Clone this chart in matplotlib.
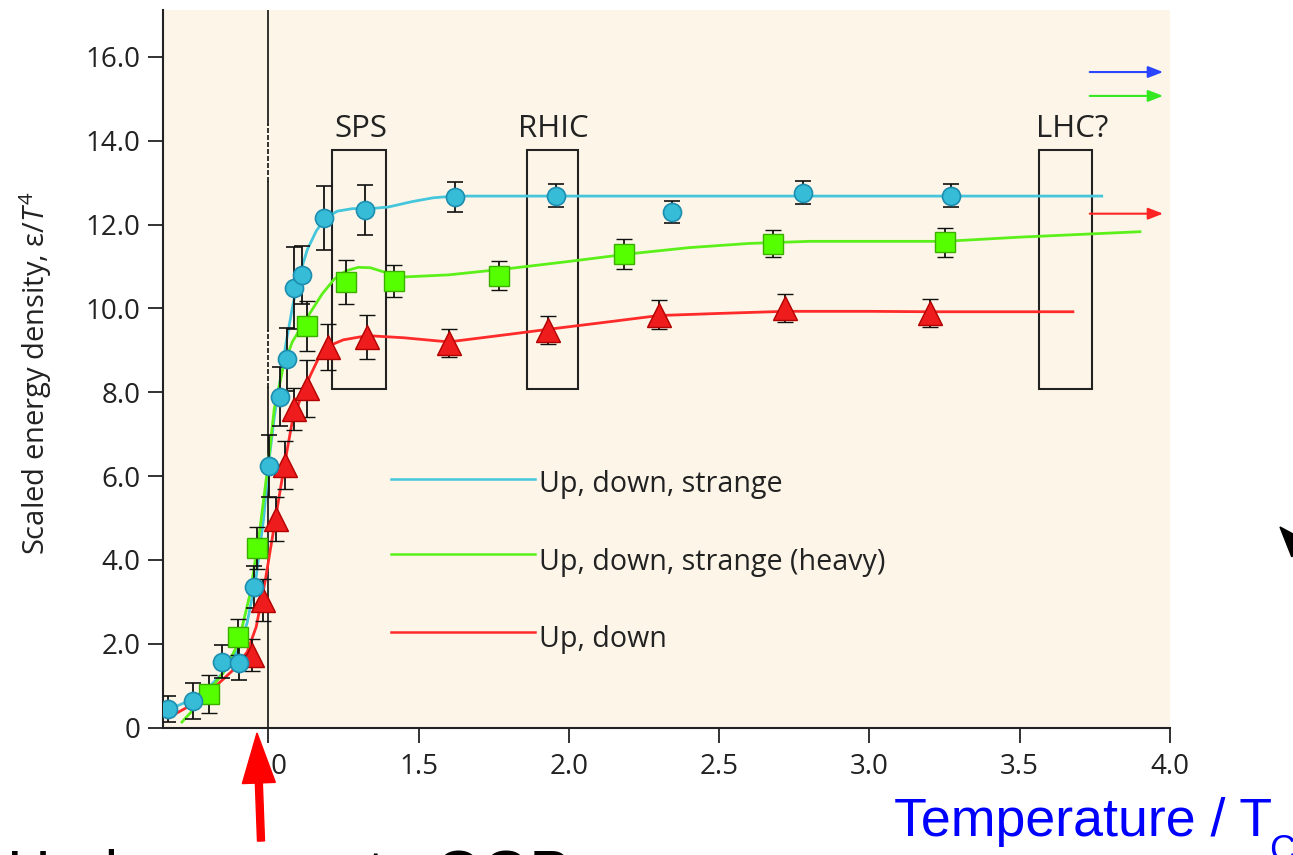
import matplotlib
matplotlib.use('Agg')
import matplotlib.pyplot as plt
from matplotlib.patches import Rectangle, FancyArrow
from matplotlib.transforms import IdentityTransform

plt.rcParams['font.family'] = ['Open Sans', 'DejaVu Sans']
plt.rcParams['mathtext.fontset'] = 'custom'
plt.rcParams['mathtext.it'] = 'Open Sans:italic'
plt.rcParams['mathtext.rm'] = 'Open Sans'

# ---------------- data ----------------
# Up, down, strange (cyan circles)
uds_x = [0.667, 0.75, 0.847, 0.903, 0.953, 1.003, 1.04, 1.063, 1.087, 1.113, 1.187, 1.323,
         1.62, 1.957, 2.343, 2.78, 3.27]
uds_y = [0.44, 0.63, 1.57, 1.54, 3.35, 6.24, 7.89, 8.79, 10.49, 10.80, 12.16, 12.35,
         12.66, 12.69, 12.30, 12.76, 12.69]
uds_err = [0.30, 0.43, 0.40, 0.40, 0.50, 0.75, 0.70, 0.75, 0.98, 0.70, 0.77, 0.60,
           0.36, 0.27, 0.27, 0.28, 0.27]
uds_curve_x = [0.667, 0.75, 0.80, 0.85, 0.90, 0.93, 0.96, 0.985, 1.0, 1.02, 1.04, 1.06, 1.08,
               1.10, 1.13, 1.16, 1.19, 1.23, 1.28, 1.34, 1.40, 1.48, 1.55, 1.62, 2.0, 2.5,
               3.0, 3.5, 3.773]
uds_curve_y = [0.42, 0.68, 0.95, 1.3, 1.85, 2.5, 3.6, 5.0, 6.2, 7.4, 8.3, 9.2, 10.0,
               10.7, 11.4, 11.85, 12.15, 12.32, 12.38, 12.38, 12.42, 12.55, 12.64, 12.68,
               12.68, 12.68, 12.68, 12.68, 12.68]

# Up, down, strange (heavy) (green squares)
udsh_x = [0.803, 0.90, 0.963, 1.13, 1.26, 1.417, 1.767, 2.183, 2.68, 3.25]
udsh_y = [0.80, 2.16, 4.28, 9.58, 10.63, 10.66, 10.78, 11.30, 11.54, 11.58]
udsh_err = [0.45, 0.43, 0.50, 0.60, 0.53, 0.38, 0.35, 0.35, 0.32, 0.35]
udsh_curve_x = [0.713, 0.76, 0.80, 0.85, 0.90, 0.94, 0.97, 1.0, 1.02, 1.05, 1.08, 1.11,
                1.14, 1.18, 1.22, 1.26, 1.30, 1.34, 1.38, 1.45, 1.6, 1.8, 2.0, 2.2, 2.4,
                2.6, 2.8, 3.0, 3.25, 3.5, 3.9]
udsh_curve_y = [0.13, 0.5, 0.85, 1.3, 2.0, 3.2, 4.6, 6.3, 7.6, 8.6, 9.2, 9.55,
                9.9, 10.35, 10.7, 10.9, 10.98, 10.97, 10.88, 10.75, 10.8, 10.95, 11.12,
                11.3, 11.45, 11.55, 11.6, 11.6, 11.6, 11.7, 11.83]

# Up, down (red triangles)
ud_x = [0.947, 0.983, 1.027, 1.057, 1.087, 1.13, 1.2, 1.327, 1.603, 1.93, 2.3, 2.72, 3.2]
ud_y = [1.73, 3.04, 4.98, 6.26, 7.60, 8.10, 9.08, 9.32, 9.18, 9.49, 9.85, 10.01, 9.89]
ud_err = [0.38, 0.50, 0.52, 0.57, 0.51, 0.68, 0.55, 0.52, 0.34, 0.33, 0.34, 0.33, 0.33]
ud_curve_x = [0.697, 0.76, 0.82, 0.88, 0.93, 0.96, 0.99, 1.02, 1.05, 1.08, 1.11, 1.14,
              1.17, 1.2, 1.25, 1.33, 1.45, 1.6, 1.8, 1.93, 2.1, 2.3, 2.5, 2.72, 3.0, 3.2,
              3.677]
ud_curve_y = [0.35, 0.6, 0.95, 1.35, 1.8, 2.4, 3.5, 4.8, 6.1, 7.3, 7.9, 8.4,
              8.85, 9.1, 9.25, 9.35, 9.3, 9.2, 9.38, 9.5, 9.65, 9.83, 9.88, 9.93, 9.93,
              9.92, 9.92]

series_labels = ['Up, down, strange', 'Up, down, strange (heavy)', 'Up, down']

# accelerator windows
box_names = ['SPS', 'RHIC', 'LHC?']
box_left = [1.213, 1.86, 3.563]
box_right = [1.393, 2.03, 3.74]
box_bottom = 8.08
box_top = 13.78
box_label_x = [1.31, 1.95, 3.673]
box_label_y = 14.1

# Stefan-Boltzmann limit arrows (right side)
sb_y = [15.64, 15.07, 12.26]
sb_x0, sb_x1 = 3.733, 3.977

xticks = [1.0, 1.5, 2.0, 2.5, 3.0, 3.5, 4.0]
xticklabels = ['1.0', '1.5', '2.0', '2.5', '3.0', '3.5', '4.0']
yticks = [0, 2, 4, 6, 8, 10, 12, 14, 16]
yticklabels = ['0', '2.0', '4.0', '6.0', '8.0', '10.0', '12.0', '14.0', '16.0']

# ---------------- style ----------------
cyan_line = '#45c6dc'
cyan_fill = '#36bcd6'
cyan_edge = '#1d8db0'
green_line = '#5cf01a'
green_fill = '#55ff00'
green_edge = '#3cae00'
red_line = '#ff2a2a'
red_fill = '#ee1c1c'
red_edge = '#b00000'
txt = '#222222'

fig = plt.figure(figsize=(12.93, 8.55), dpi=100)
ax = fig.add_axes([163 / 1293, (855 - 727.5) / 855, 1007 / 1293, 717.5 / 855])
ax.set_facecolor('#fdf6e8')
ax.set_xlim(0.65, 4.0)
ax.set_ylim(0, 17.12)

for s in ['top', 'right']:
    ax.spines[s].set_visible(False)
for s in ['left', 'bottom']:
    ax.spines[s].set_linewidth(1.5)
    ax.spines[s].set_color(txt)

ax.set_xticks(xticks)
ax.set_xticklabels(xticklabels)
ax.set_yticks(yticks)
ax.set_yticklabels(yticklabels)
ax.tick_params(direction='out', length=11, width=1.3, colors=txt, labelsize=20, pad=5)
ax.tick_params(axis='x', pad=7)

# vertical line at T = Tc
ax.plot([1.0, 1.0], [0, 8.1], color='#111111', lw=1.2, zorder=2)
ax.plot([1.0, 1.0], [8.1, 9.49], color='#111111', lw=1.2, ls=(0, (3, 1.2)), zorder=2)
ax.plot([1.0, 1.0], [9.49, 13.02], color='#111111', lw=1.2, zorder=2)
ax.plot([1.0, 1.0], [13.02, 14.4], color='#111111', lw=1.2, ls=(0, (3, 1.2)), zorder=2)
ax.plot([1.0, 1.0], [14.4, 17.12], color='#111111', lw=1.2, zorder=2)

# boxes
for name, l, r, lx in zip(box_names, box_left, box_right, box_label_x):
    ax.add_patch(Rectangle((l, box_bottom), r - l, box_top - box_bottom, fill=False,
                           ec='#222222', lw=1.5, zorder=3))
    ax.text(lx, box_label_y, name, ha='center', va='baseline', fontsize=22.5, color=txt)

# curves
ax.plot(uds_curve_x, uds_curve_y, color=cyan_line, lw=2.0, zorder=4)
ax.plot(udsh_curve_x, udsh_curve_y, color=green_line, lw=2.0, zorder=4)
ax.plot(ud_curve_x, ud_curve_y, color=red_line, lw=2.0, zorder=4)

# error bars + markers
ekw = dict(ls='none', ecolor='#111111', elinewidth=1.3, capsize=5.5, capthick=1.3, zorder=5)
ax.errorbar(ud_x, ud_y, yerr=ud_err, marker='^', ms=17, mfc=red_fill, mec=red_edge,
            mew=1.0, **ekw)
ax.errorbar(udsh_x, udsh_y, yerr=udsh_err, marker='s', ms=14, mfc=green_fill,
            mec=green_edge, mew=1.0, **ekw)
ax.errorbar(uds_x, uds_y, yerr=uds_err, marker='o', ms=13, mfc=cyan_fill, mec=cyan_edge,
            mew=1.2, **ekw)

# right side arrows
for yv, c in zip(sb_y, ['#2a45ff', '#33e81e', '#ff2424']):
    ax.annotate('', xy=(sb_x1, yv), xytext=(sb_x0, yv),
                arrowprops=dict(arrowstyle='-|>,head_length=0.9,head_width=0.35',
                                color=c, lw=1.5, shrinkA=0, shrinkB=0), zorder=6)

# legend (manual)
for (yl, yt), c, lab in zip([(0.3463, 0.3282), (0.2418, 0.2195), (0.1331, 0.1122)],
                            [cyan_line, green_line, red_line], series_labels):
    ax.plot([0.2264, 0.3694], [yl, yl], color=c, lw=1.8, transform=ax.transAxes, zorder=6)
    ax.text(0.3734, yt, lab, transform=ax.transAxes, fontsize=20.6, color=txt,
            ha='left', va='baseline')

# y label
fig.text(36 / 1293, (855 - 373) / 855, r'Scaled energy density, ε/$\mathit{T}^4$',
         rotation=90, ha='center', va='center', fontsize=21, color=txt)

# x label (blue, Arial-like)
fig.text(894 / 1293, (855 - 836) / 855, 'Temperature / T', fontsize=38.7,
         family='Liberation Sans', color='#0000ff', ha='left', va='baseline')
fig.text(1269 / 1293, (855 - 861) / 855, 'C', fontsize=26,
         family='Liberation Sans', color='#0000ff', ha='left', va='baseline')

# bottom caption (cut off)
fig.text(7 / 1293, (855 - 893) / 855, 'Hadrons gas to QGP', fontsize=43.7,
         family='Liberation Sans', color='black', ha='left', va='baseline')

# red arrow pointing at Tc
fig.add_artist(FancyArrow(261, 14, -4, 108, width=7, head_width=33, head_length=50,
                          length_includes_head=True, transform=IdentityTransform(),
                          color='#ff0000', zorder=10))
# partial black arrow at right edge
fig.add_artist(FancyArrow(1345, 255, -65, 73, width=5, head_width=22, head_length=30,
                          length_includes_head=True, transform=IdentityTransform(),
                          color='black', zorder=10))

fig.savefig('out.png', dpi=100, facecolor='white')
